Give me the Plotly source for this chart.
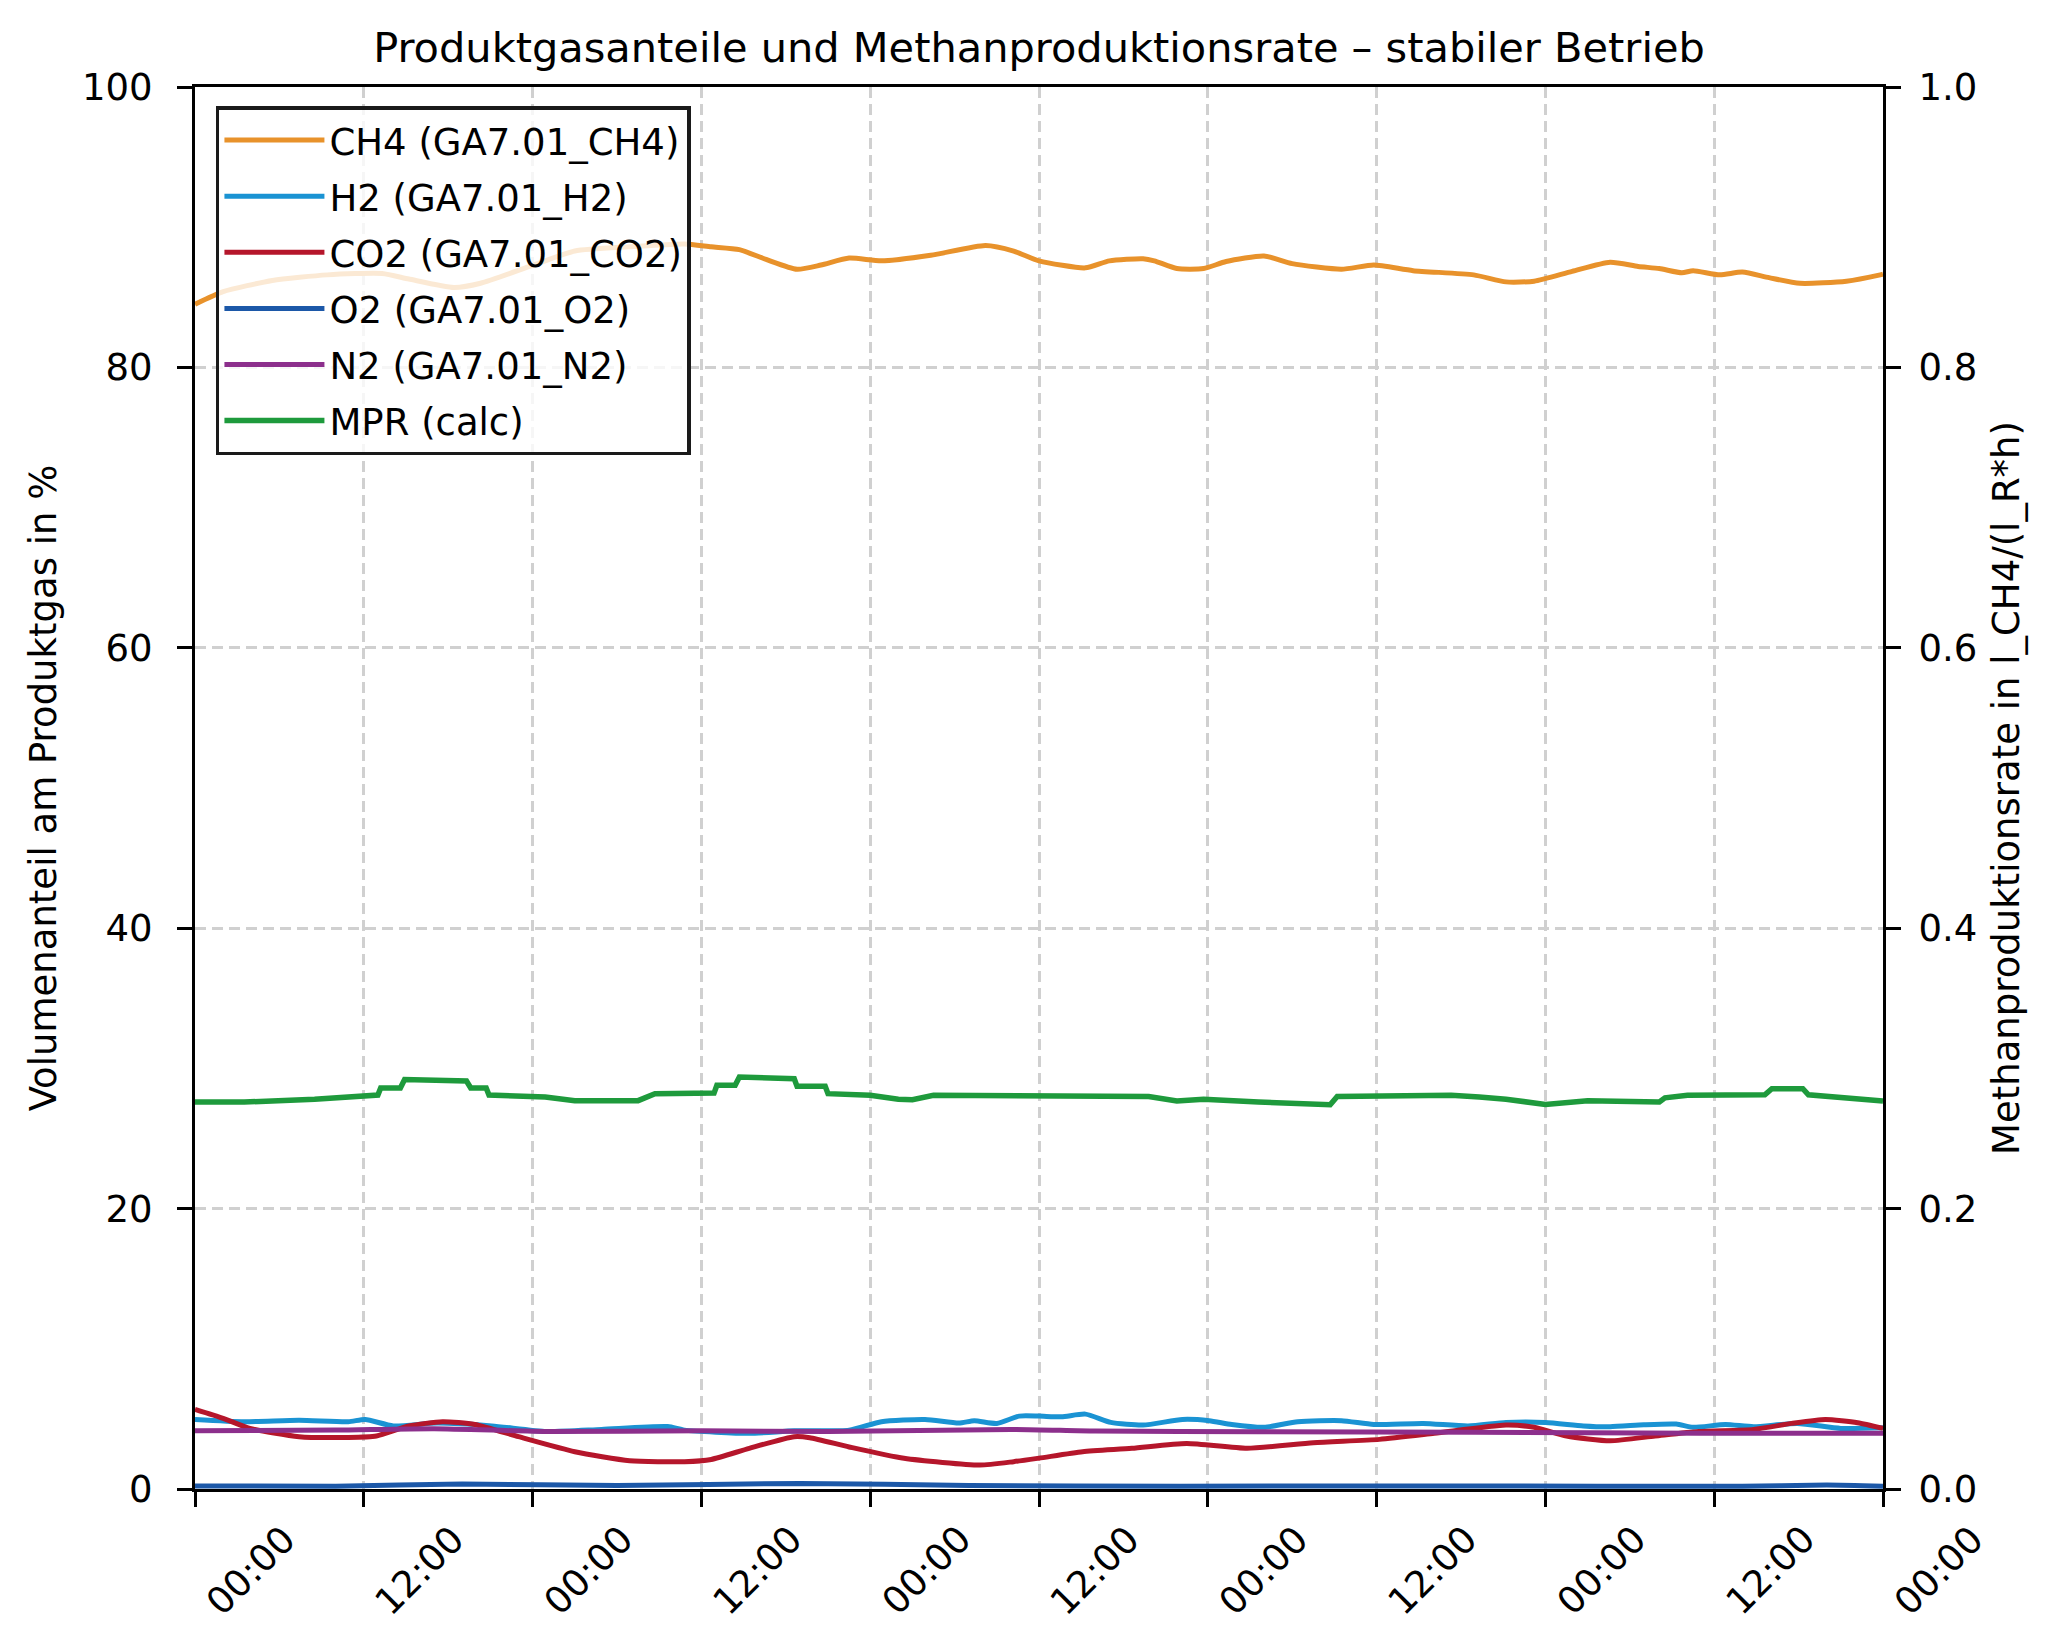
# Produktgasanteile und Methanproduktionsrate (stabiler Betrieb) mit Plotly
import pandas as pd
import plotly.graph_objects as go

# Startzeitpunkt der Messreihe (5 Tage)
start = pd.Timestamp("2024-05-06 00:00")

ch4_h = [0, 2, 5.5, 9.4, 13.3, 15.2, 18.4, 20.3, 23.8, 27, 30.9, 34.8, 36.7, 38.7,
         40.6, 42.8, 44.5, 46.5, 48.8, 52.3, 56.2, 58.2, 60, 63.3, 65, 67.4, 68.2,
         69.8, 71.7, 73.3, 76, 78, 81.5, 83.8, 86.6, 90.9, 93.2, 95.2, 97.9, 100.6,
         102.6, 104.1, 105.7, 106.5, 108.4, 110, 111.9, 114.1, 117.4, 119.8, 120]
ch4 = [84.5, 85.4, 86.2, 86.6, 86.7, 86.3, 85.7, 86.0, 87.2, 88.3, 88.6, 88.8, 88.6, 88.4,
       87.7, 87.0, 87.3, 87.8, 87.6, 88.0, 88.7, 88.3, 87.6, 87.1, 87.6, 87.75, 87.6,
       87.05, 87.05, 87.55, 87.95, 87.4, 87.0, 87.3, 86.9, 86.6, 86.1, 86.15, 86.85, 87.5,
       87.2, 87.05, 86.75, 86.9, 86.6, 86.8, 86.4, 86.0, 86.15, 86.6, 86.65]

h2_h = [0, 3.5, 7.4, 10.9, 12.1, 14.1, 17.2, 21.1, 25, 28.9, 33.6, 34.8, 39.4, 42.6,
        46.5, 48.8, 51.9, 54.3, 55.4, 57, 58.6, 60, 61.6, 63.3, 65.1, 67.4, 70.2, 72.1,
        73.7, 76, 78.4, 81.5, 83.8, 87.3, 90.5, 93.2, 96, 98.7, 100.6, 103, 105.3, 106.5,
        108.8, 110.8, 113.9, 117, 120]
h2 = [4.96, 4.8, 4.9, 4.8, 4.96, 4.5, 4.7, 4.5, 4.1, 4.25, 4.45, 4.2, 3.97, 4.15,
      4.2, 4.8, 4.96, 4.7, 4.87, 4.68, 5.2, 5.2, 5.15, 5.34, 4.75, 4.56, 4.96, 4.87,
      4.6, 4.4, 4.8, 4.87, 4.6, 4.68, 4.5, 4.75, 4.75, 4.5, 4.44, 4.58, 4.63, 4.4,
      4.6, 4.44, 4.68, 4.32, 4.37]

co2_h = [0, 2, 3.9, 7.4, 10.9, 12.9, 15.2, 17.6, 19.9, 23, 27, 30.9, 34.8, 36.7, 39.4,
         42.6, 43.7, 46.5, 50.4, 55.8, 58.2, 60, 63.1, 66.6, 70.5, 74.8, 79.5, 84.2, 88.1,
         93.2, 95.2, 97.5, 100.6, 103.8, 106.9, 110.8, 113.5, 115.9, 118.2, 120]
co2 = [5.68, 5.04, 4.32, 3.73, 3.68, 3.78, 4.49, 4.8, 4.6, 3.73, 2.66, 2.02, 1.95, 2.11, 2.9,
       3.73, 3.66, 3.0, 2.19, 1.71, 1.95, 2.2, 2.66, 2.9, 3.25, 2.9, 3.3, 3.54, 3.97,
       4.56, 4.4, 3.78, 3.44, 3.78, 4.1, 4.25, 4.68, 4.96, 4.73, 4.32]

o2_h = [0, 10, 19, 30, 43, 55, 70, 90, 110, 116, 120]
o2 = [0.21, 0.2, 0.36, 0.25, 0.4, 0.25, 0.2, 0.22, 0.2, 0.28, 0.2]

n2_h = [0, 10, 17, 25, 36, 45, 58, 64, 75.6, 91, 107, 120]
n2 = [4.15, 4.2, 4.3, 4.1, 4.15, 4.1, 4.25, 4.13, 4.08, 4.04, 3.97, 3.97]

mpr_h = [0, 3.5, 8.5, 12, 13.0, 13.2, 14.6, 14.9, 19.3, 19.6, 20.7, 20.9, 24.9, 27, 31.5,
         32.7, 36.9, 37.1, 38.4, 38.7, 42.6, 42.8, 44.8, 45.0, 48, 50, 51, 52.5, 60,
         67.8, 69.8, 71.7, 75.6, 80.7, 81.2, 89.3, 91.3, 93.2, 96, 99, 104.1, 104.5,
         106.1, 111.6, 112.1, 114.3, 114.7, 118.6, 120]
mpr = [0.276, 0.276, 0.278, 0.281, 0.281, 0.286, 0.286, 0.292, 0.291, 0.286, 0.286, 0.281,
       0.2796, 0.277, 0.277, 0.282, 0.2824, 0.2879, 0.2879, 0.2938, 0.2926, 0.2872, 0.2872,
       0.282, 0.2808, 0.278, 0.2777, 0.2808, 0.280, 0.280, 0.2767, 0.278, 0.276, 0.2741,
       0.280, 0.2808, 0.2796, 0.278, 0.2743, 0.277, 0.276, 0.279, 0.2808, 0.2812, 0.2855,
       0.2855, 0.2812, 0.278, 0.2767]

# Achsenbeschriftung der Zeitachse (alle 12 Stunden)
tick_h = [0, 12, 24, 36, 48, 60, 72, 84, 96, 108, 120]

FONT = "DejaVu Sans"


def zeit(stunden):
    """Stunden seit Start in Zeitstempel umrechnen."""
    return start + pd.to_timedelta(stunden, unit="h")


gase = [
    ("CH4 (GA7.01_CH4)", ch4_h, ch4, "#e8922b"),
    ("H2 (GA7.01_H2)", h2_h, h2, "#1a93d3"),
    ("CO2 (GA7.01_CO2)", co2_h, co2, "#b5162b"),
    ("O2 (GA7.01_O2)", o2_h, o2, "#1c58a8"),
    ("N2 (GA7.01_N2)", n2_h, n2, "#8c2f8c"),
]

fig = go.Figure()
for name, hh, vals, color in gase:
    fig.add_trace(go.Scatter(
        x=zeit(hh), y=vals, mode="lines", name=name, legendgroup=name,
        line=dict(color=color, width=5, shape="spline", smoothing=0.6),
    ))

fig.add_trace(go.Scatter(
    x=zeit(mpr_h), y=mpr, mode="lines", name="MPR (calc)", legendgroup="mpr",
    line=dict(color="#1e9a3c", width=5.5), yaxis="y2",
))

tick_t = zeit(tick_h)
grid = dict(showgrid=True, gridcolor="#d0d0d0", gridwidth=2.5, griddash="11px,6px")
achse = dict(showline=True, linecolor="black", linewidth=3, ticks="outside",
             ticklen=15, tickwidth=3, tickcolor="black", zeroline=False,
             tickfont=dict(family=FONT, size=37, color="black"))

# Seite hat 8px Rand, daher etwas kleinere Figur
fig.update_layout(
    width=2058, height=1617,
    margin=dict(l=187, r=183, t=79, b=136),
    paper_bgcolor="white", plot_bgcolor="white",
    font=dict(family=FONT, size=37, color="black"),
    title=dict(text="Produktgasanteile und Methanproduktionsrate – stabiler Betrieb",
               x=0.5, xref="paper", y=1 - 39 / 1617, yanchor="middle",
               font=dict(family=FONT, size=41.5, color="black")),
    xaxis=dict(range=[tick_t[0], tick_t[-1]], tickvals=tick_t, showticklabels=False,
               mirror=True, **grid, **achse),
    yaxis=dict(range=[0, 100], tickvals=[0, 20, 40, 60, 80, 100], ticklabelstandoff=17,
               title=dict(text="Volumenanteil am Produktgas in %", standoff=15,
                          font=dict(family=FONT, size=37)),
               **grid, **achse),
    yaxis2=dict(range=[0, 1], tickvals=[0, 0.2, 0.4, 0.6, 0.8, 1.0], tickformat=".1f",
                overlaying="y", side="right", showgrid=False, ticklabelstandoff=10,
                title=dict(text="Methanproduktionsrate in l_CH4/(l_R*h)", standoff=17,
                           font=dict(family=FONT, size=37)),
                **achse),
    legend=dict(x=0.0124, y=0.9864, xanchor="left", yanchor="top",
                bgcolor="rgba(255,255,255,0.8)", bordercolor="#1a1a1a", borderwidth=3.5,
                font=dict(family=FONT, size=37, color="black"),
                itemwidth=100, tracegroupgap=5),
    showlegend=True,
)

# Zeitbeschriftung schräg, links an den Teilstrich angesetzt
for t in tick_t:
    fig.add_annotation(x=t, xref="x", y=-0.018, yref="paper", text=t.strftime("%H:%M"),
                       textangle=-45, xanchor="left", yanchor="top", showarrow=False,
                       font=dict(family=FONT, size=37, color="black"))

fig.write_html("out.html")
